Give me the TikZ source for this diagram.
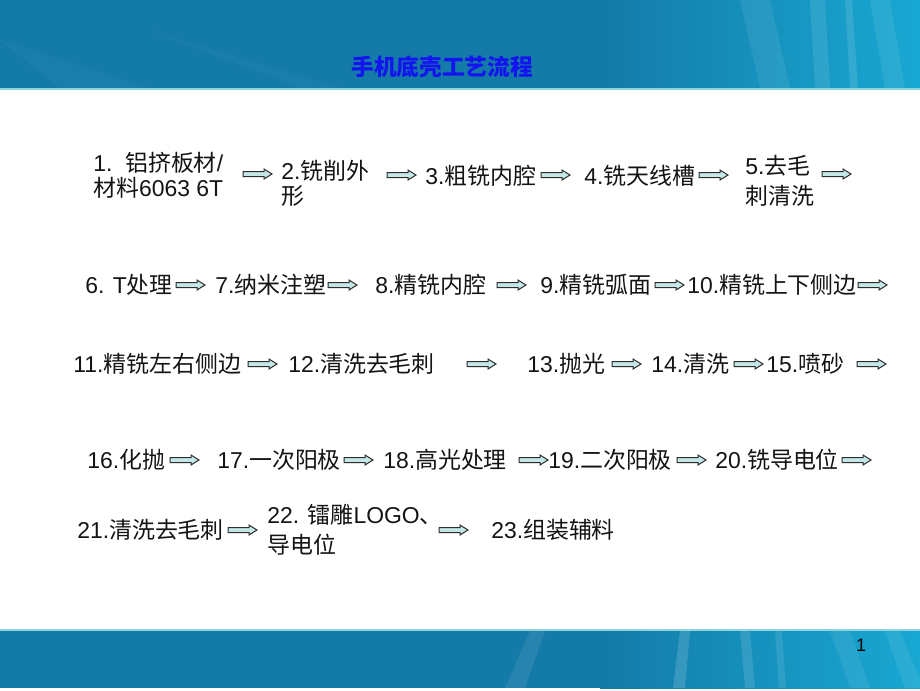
\documentclass[tikz,border=0pt]{standalone}
\usepackage{fontspec}
\setmainfont{Liberation Sans}
\newfontfamily\cjk{Noto Sans CJK SC}
\newcommand\zh[1]{{\cjk #1}}
\definecolor{bandA}{RGB}{20,122,168}
\definecolor{bandB}{RGB}{24,168,210}
\definecolor{bandL}{RGB}{140,212,222}
\definecolor{fillA}{RGB}{196,232,232}
\definecolor{edgeA}{RGB}{45,45,45}
\definecolor{txt}{RGB}{20,20,20}
\definecolor{ttl}{RGB}{20,20,240}
\tikzset{
 lbl/.style={anchor=west,inner sep=0pt,text=txt,font=\fontsize{17.2}{18.75}\selectfont,align=left},
 lbltwo/.style={lbl,font=\fontsize{17.2}{22.5}\selectfont},
 barrow/.style={draw=edgeA,fill=fillA,line width=0.75pt,line join=miter},
 blk/.pic={\draw[barrow] (0,-2.5) -- (21,-2.5) -- (21,-5) -- (29,0) -- (21,5) -- (21,2.5) -- (0,2.5) -- cycle;},
 streak/.style={fill=white,opacity=#1},
}
\begin{document}
\begin{tikzpicture}[x=0.75pt,y=-0.75pt]
\useasboundingbox (0,0) rectangle (920,690);
\fill[white] (0,0) rectangle (920,690);
% top band
\fill[bandA] (0,0) rectangle (920,88);
\shade[left color=bandA,right color=bandB] (600,0) rectangle (920,88);
\fill[streak=0.03] (0,40) -- (60,88) -- (150,88) -- cycle;
\fill[streak=0.03] (150,30) -- (300,88) -- (340,88) -- cycle;
\fill[streak=0.08] (740,0) -- (770,0) -- (790,88) -- (760,88) -- cycle;
\fill[streak=0.10] (810,0) -- (825,0) -- (830,88) -- (815,88) -- cycle;
\fill[streak=0.12] (845,0) -- (852,0) -- (858,88) -- (850,88) -- cycle;
\fill[streak=0.08] (870,0) -- (890,0) -- (905,88) -- (885,88) -- cycle;
\fill[bandL] (0,88) rectangle (920,90);
% bottom band
\fill[bandA] (0,631) rectangle (920,688);
\shade[left color=bandA,right color=bandB] (600,631) rectangle (920,688);
\fill[streak=0.08] (530,631) -- (545,631) -- (525,688) -- (505,688) -- cycle;
\fill[streak=0.15] (680,631) -- (690,631) -- (685,688) -- (673,688) -- cycle;
\fill[streak=0.12] (740,631) -- (750,631) -- (755,688) -- (745,688) -- cycle;
\fill[streak=0.10] (775,631) -- (782,631) -- (786,688) -- (779,688) -- cycle;
\fill[streak=0.08] (830,631) -- (850,631) -- (870,688) -- (850,688) -- cycle;
\fill[streak=0.08] (885,631) -- (900,631) -- (920,680) -- (920,688) -- (905,688) -- cycle;
\fill[bandL] (0,629) rectangle (920,631);
\node[inner sep=0pt,font=\fontsize{13.5}{14}\selectfont,text=black] (pg) at (861,645) {1};
% title
\node[inner sep=0pt,text=ttl,font=\cjk\bfseries\fontsize{17}{18}\selectfont] (title) at (442,67) {手机底壳工艺流程};
% row 1
\node[lbl] (s1) at (93,175) {1.\ \ \zh{铝挤板材}/\\\zh{材料}6063 6T};
\pic (a1) at (243,174) {blk};
\node[lbl] (s2) at (281,183) {2.\zh{铣削外}\\\zh{形}};
\pic (a2) at (387,175) {blk};
\node[lbl] (s3) at (425,176) {3.\zh{粗铣内腔}};
\pic (a3) at (541,175) {blk};
\node[lbl] (s4) at (584,176) {4.\zh{铣天线槽}};
\pic (a4) at (699,175) {blk};
\node[lbltwo] (s5) at (745,181) {5.\zh{去毛}\\\zh{刺清洗}};
\pic (a5) at (822,174) {blk};
% row 2
\node[lbl] (s6) at (85,285) {6. T\zh{处理}};
\pic (a6) at (176,285) {blk};
\node[lbl] (s7) at (215,285) {7.\zh{纳米注塑}};
\pic (a7) at (328,285) {blk};
\node[lbl] (s8) at (375,285) {8.\zh{精铣内腔}};
\pic (a8) at (497,285) {blk};
\node[lbl] (s9) at (540,285) {9.\zh{精铣弧面}};
\pic (a9) at (655,285) {blk};
\node[lbl] (s10) at (687,285) {10.\zh{精铣上下侧边}};
\pic (a10) at (858,285) {blk};
% row 3
\node[lbl] (s11) at (73,364) {11.\zh{精铣左右侧边}};
\pic (a11) at (248,364) {blk};
\node[lbl] (s12) at (288,364) {12.\zh{清洗去毛刺}};
\pic (a12) at (467,364) {blk};
\node[lbl] (s13) at (527,364) {13.\zh{抛光}};
\pic (a13) at (612,364) {blk};
\node[lbl] (s14) at (651,364) {14.\zh{清洗}};
\pic (a14) at (734,364) {blk};
\node[lbl] (s15) at (766,364) {15.\zh{喷砂}};
\pic (a15) at (857,364) {blk};
% row 4
\node[lbl] (s16) at (87,460) {16.\zh{化抛}};
\pic (a16) at (170,460) {blk};
\node[lbl] (s17) at (217,460) {17.\zh{一次阳极}};
\pic (a17) at (344,460) {blk};
\node[lbl] (s18) at (383,460) {18.\zh{高光处理}};
\pic (a18) at (519,460) {blk};
\node[lbl] (s19) at (548,460) {19.\zh{二次阳极}};
\pic (a19) at (677,460) {blk};
\node[lbl] (s20) at (715,460) {20.\zh{铣导电位}};
\pic (a20) at (842,460) {blk};
% row 5
\node[lbl] (s21) at (77,530) {21.\zh{清洗去毛刺}};
\pic (a21) at (228,530) {blk};
\node[lbltwo] (s22) at (267,530) {22. \zh{镭雕}LOGO\zh{、}\\\zh{导电位}};
\pic (a22) at (439,530) {blk};
\node[lbl] (s23) at (491,530) {23.\zh{组装辅料}};
\end{tikzpicture}
\end{document}
